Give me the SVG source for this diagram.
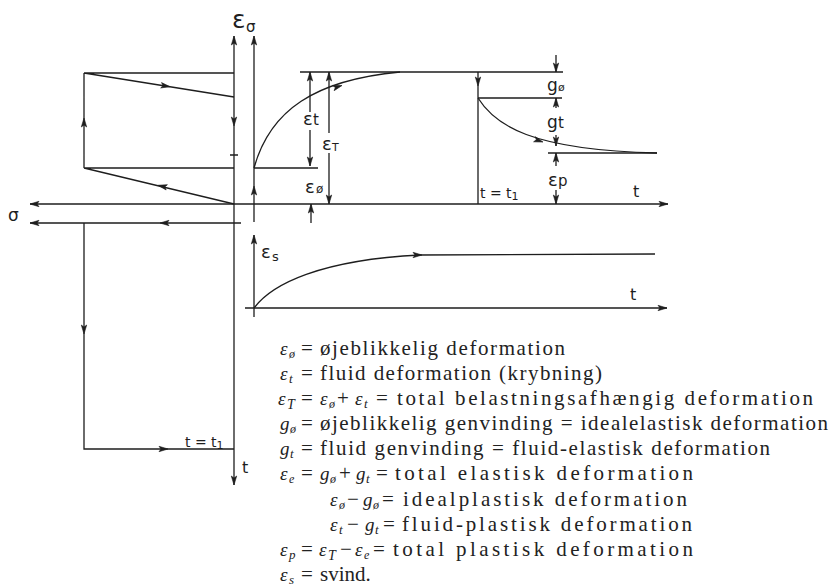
<svg xmlns="http://www.w3.org/2000/svg" xmlns:xlink="http://www.w3.org/1999/xlink" width="831" height="587" viewBox="0 0 831 587">
<style>
.ln{stroke:#1e1e1e;stroke-width:1.3;fill:none}
.lbl{font-family:"DejaVu Sans","Liberation Sans",sans-serif;fill:#1e1e1e}
.leg{font-family:"Liberation Serif",serif;font-size:21px;fill:#222}
.sym{font-family:"Liberation Serif",serif;font-style:italic;fill:#222}
</style>
<defs>
<path id="ar" d="M0,0 L-9,-2.7 L-7,0 L-9,2.7 Z" fill="#1e1e1e" stroke="#1e1e1e" stroke-width="0.6"/>
</defs>
<rect width="831" height="587" fill="#fff"/>

<g id="connectors">
<!-- sigma graph -->
<path class="ln" d="M84,73 H234 M84,73 L234,97 M84,73 V168 M84,168 H234 M84,168 L234,204 M230,155 H238"/>
<path class="ln" d="M30,223 H241 M84,223 V449 H234"/>
<path class="ln" d="M234,36 V485"/>
<path class="ln" d="M30,204 H668"/>
<!-- creep graph -->
<path class="ln" d="M254,36 V222"/>
<path class="ln" d="M254,168 C270,110 315,80 400,72"/>
<path class="ln" d="M300,72 H563 M254,168 H318"/>
<path class="ln" d="M310,72 V112 M310,130 V166"/>
<path class="ln" d="M329,72 V133 M329,153 V204"/>
<path class="ln" d="M311,204 V223"/>
<path class="ln" d="M478,72 V204 M478,98 H562"/>
<path class="ln" d="M478,98 C495,125 530,150 657,153"/>
<path class="ln" d="M548,153 H657"/>
<path class="ln" d="M556,55 V72 M556,98 V108 M556,135 V146 M556,153 V166 M556,190 V204"/>
<!-- shrinkage graph -->
<path class="ln" d="M254,235 V317 M245,308 H667"/>
<path class="ln" d="M254,308 C272,284 320,260 420,255 L655,254"/>
<!-- arrowheads -->
<use xlink:href="#ar" transform="translate(234,36) rotate(-90)"/>
<use xlink:href="#ar" transform="translate(254,36) rotate(-90)"/>
<use xlink:href="#ar" transform="translate(170,86.7) rotate(9.1)"/>
<use xlink:href="#ar" transform="translate(84,118) rotate(-90)"/>
<use xlink:href="#ar" transform="translate(234,126) rotate(90)"/>
<use xlink:href="#ar" transform="translate(158,185.3) rotate(193.1)"/>
<use xlink:href="#ar" transform="translate(30,204) rotate(180)"/>
<use xlink:href="#ar" transform="translate(30,223) rotate(180)"/>
<use xlink:href="#ar" transform="translate(160,223) rotate(180)"/>
<use xlink:href="#ar" transform="translate(84,334) rotate(90)"/>
<use xlink:href="#ar" transform="translate(168,449) rotate(0)"/>
<use xlink:href="#ar" transform="translate(234,485) rotate(90)"/>
<use xlink:href="#ar" transform="translate(254,186) rotate(-90)"/>
<use xlink:href="#ar" transform="translate(342,85.5) rotate(-16.5)"/>
<use xlink:href="#ar" transform="translate(310,72) rotate(-90)"/>
<use xlink:href="#ar" transform="translate(310,166) rotate(90)"/>
<use xlink:href="#ar" transform="translate(329,72) rotate(-90)"/>
<use xlink:href="#ar" transform="translate(329,204) rotate(90)"/>
<use xlink:href="#ar" transform="translate(311,204) rotate(-90)"/>
<use xlink:href="#ar" transform="translate(668,204) rotate(0)"/>
<use xlink:href="#ar" transform="translate(478,86) rotate(90)"/>
<use xlink:href="#ar" transform="translate(556,72) rotate(90)"/>
<use xlink:href="#ar" transform="translate(556,98) rotate(-90)"/>
<use xlink:href="#ar" transform="translate(556,146) rotate(90)"/>
<use xlink:href="#ar" transform="translate(556,153) rotate(-90)"/>
<use xlink:href="#ar" transform="translate(556,204) rotate(90)"/>
<use xlink:href="#ar" transform="translate(543,142) rotate(18)"/>
<use xlink:href="#ar" transform="translate(254,235) rotate(-90)"/>
<use xlink:href="#ar" transform="translate(667,308) rotate(0)"/>
<use xlink:href="#ar" transform="translate(422,255) rotate(0)"/>
</g>

<g id="labels" class="lbl">
<text x="232" y="28" font-size="25">ε</text><text x="246" y="32" font-size="15">σ</text>
<text x="303" y="125" font-size="18">ε</text><text x="313" y="125" font-size="15">t</text>
<text x="322" y="150" font-size="18">ε</text><text x="332" y="151" font-size="11">T</text>
<text x="305" y="193" font-size="18">ε</text><text x="316" y="193" font-size="12">ø</text>
<text x="547" y="91" font-size="17">g</text><text x="558" y="91" font-size="11">ø</text>
<text x="547" y="128" font-size="17">g</text><text x="558" y="128" font-size="15">t</text>
<text x="548" y="186" font-size="18">ε</text><text x="558" y="186" font-size="15">p</text>
<text x="633" y="197" font-size="16">t</text>
<text x="480" y="198" font-size="14">t = t<tspan font-size="11" dy="2">1</tspan></text>
<text x="8" y="221" font-size="17">σ</text>
<text x="185" y="447" font-size="14">t = t<tspan font-size="11" dy="2">1</tspan></text>
<text x="242" y="473" font-size="16">t</text>
<text x="261" y="258" font-size="18">ε</text><text x="272" y="261" font-size="13">s</text>
<text x="630" y="300" font-size="16">t</text>
</g>

<g id="legend">
<g id="l1"><text class="sym" x="280" y="355" font-size="19">ε</text><text class="sym" x="289" y="358" font-size="12">ø</text><text class="leg" x="301" y="355">=</text><text class="leg" x="320" y="355" textLength="245" lengthAdjust="spacing">øjeblikkelig deformation</text></g>
<g id="l2"><text class="sym" x="280" y="380" font-size="19">ε</text><text class="sym" x="289" y="383" font-size="13">t</text><text class="leg" x="301" y="380">=</text><text class="leg" x="320" y="380" textLength="282" lengthAdjust="spacing">fluid deformation (krybning)</text></g>
<g id="l3"><text class="sym" x="278" y="405" font-size="19">ε</text><text class="sym" x="287" y="409" font-size="14">T</text><text class="leg" x="301" y="405">=</text><text class="sym" x="320" y="405" font-size="19">ε</text><text class="sym" x="329" y="408" font-size="12">ø</text><text class="leg" x="337" y="405">+</text><text class="sym" x="355" y="405" font-size="19">ε</text><text class="sym" x="364" y="408" font-size="13">t</text><text class="leg" x="376" y="405">=</text><text class="leg" x="397" y="405" textLength="416" lengthAdjust="spacing">total belastningsafhængig deformation</text></g>
<g id="l4"><text class="sym" x="280" y="430" font-size="19">g</text><text class="sym" x="290" y="433" font-size="12">ø</text><text class="leg" x="301" y="430">=</text><text class="leg" x="320" y="430" textLength="508" lengthAdjust="spacing">øjeblikkelig genvinding = idealelastisk deformation</text></g>
<g id="l5"><text class="sym" x="280" y="455" font-size="19">g</text><text class="sym" x="290" y="458" font-size="13">t</text><text class="leg" x="301" y="455">=</text><text class="leg" x="320" y="455" textLength="450" lengthAdjust="spacing">fluid genvinding = fluid-elastisk deformation</text></g>
<g id="l6"><text class="sym" x="280" y="480" font-size="19">ε</text><text class="sym" x="289" y="483" font-size="12">e</text><text class="leg" x="301" y="480">=</text><text class="sym" x="320" y="480" font-size="19">g</text><text class="sym" x="330" y="483" font-size="12">ø</text><text class="leg" x="339" y="480">+</text><text class="sym" x="356" y="480" font-size="19">g</text><text class="sym" x="366" y="483" font-size="13">t</text><text class="leg" x="376" y="480">=</text><text class="leg" x="395" y="480" textLength="298" lengthAdjust="spacing">total elastisk deformation</text></g>
<g id="l7"><text class="sym" x="330" y="506" font-size="19">ε</text><text class="sym" x="339" y="509" font-size="12">ø</text><text class="leg" x="347" y="506">−</text><text class="sym" x="363" y="506" font-size="19">g</text><text class="sym" x="373" y="509" font-size="12">ø</text><text class="leg" x="382" y="506">=</text><text class="leg" x="403" y="506" textLength="284" lengthAdjust="spacing">idealplastisk deformation</text></g>
<g id="l8"><text class="sym" x="330" y="531" font-size="19">ε</text><text class="sym" x="339" y="534" font-size="13">t</text><text class="leg" x="347" y="531">−</text><text class="sym" x="365" y="531" font-size="19">g</text><text class="sym" x="375" y="534" font-size="13">t</text><text class="leg" x="383" y="531">=</text><text class="leg" x="402" y="531" textLength="290" lengthAdjust="spacing">fluid-plastisk deformation</text></g>
<g id="l9"><text class="sym" x="280" y="556" font-size="19">ε</text><text class="sym" x="289" y="559" font-size="13">p</text><text class="leg" x="301" y="556">=</text><text class="sym" x="319" y="556" font-size="19">ε</text><text class="sym" x="328" y="560" font-size="14">T</text><text class="leg" x="340" y="556">−</text><text class="sym" x="355" y="556" font-size="19">ε</text><text class="sym" x="364" y="559" font-size="12">e</text><text class="leg" x="373" y="556">=</text><text class="leg" x="393" y="556" textLength="300" lengthAdjust="spacing">total plastisk deformation</text></g>
<g id="l10"><text class="sym" x="280" y="581" font-size="19">ε</text><text class="sym" x="289" y="584" font-size="13">s</text><text class="leg" x="301" y="581">=</text><text class="leg" x="320" y="581">svind.</text></g>
</g>
</svg>
